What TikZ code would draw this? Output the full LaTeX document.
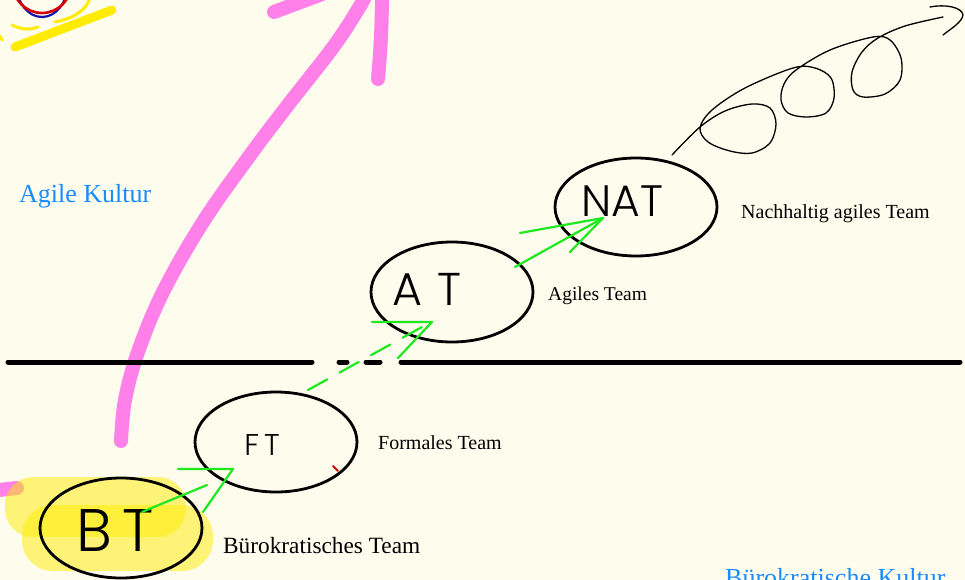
\documentclass[tikz,border=0pt]{standalone}
\usepackage{fontspec}
\setmainfont{Liberation Serif}
\newfontfamily\hand{Poppins Light}
\usetikzlibrary{shapes.geometric}
\definecolor{bg}{RGB}{254,252,237}
\definecolor{kblue}{RGB}{25,140,255}
\definecolor{hpink}{RGB}{255,128,232}
\definecolor{hyel}{RGB}{255,236,0}
\definecolor{hgreen}{RGB}{30,232,30}
\definecolor{hred}{RGB}{215,0,0}
\definecolor{hblue}{RGB}{20,20,170}
\begin{document}
\begin{tikzpicture}[x=1pt,y=-1pt,
  teamellipse/.style={ellipse, draw=black, line width=2.8pt, minimum width=162pt, minimum height=100pt, inner sep=0pt},
  handtext/.style={text=black, inner sep=0pt},
  lbl/.style={anchor=base west, text=black, inner sep=0pt},
  kultur/.style={anchor=base west, text=kblue, inner sep=0pt, font=\fontsize{26}{30}\selectfont},
  greenline/.style={draw=hgreen, line width=2.2pt, line cap=round, line join=round},
  pinkstroke/.style={draw=hpink, line width=14pt, line cap=round, line join=round},
  yelstroke/.style={draw=hyel, line cap=round, line join=round},
  highlight/.style={fill=hyel, fill opacity=0.5, draw=none, rounded corners=28pt},
  baseline/.style={draw=black, line width=5pt, line cap=round},
  coil/.style={draw=black, line width=1.3pt, line cap=round, line join=round}
]
\fill[bg] (0,0) rectangle (965,580);
\useasboundingbox (0,0) rectangle (965,580);
\clip (0,0) rectangle (965,580);

% top-left scribbles
\draw[draw=hblue, line width=2.2pt] (42,-14) ellipse [x radius=25, y radius=31];
\draw[draw=hred, line width=2.6pt] (42,-16) ellipse [x radius=29, y radius=29];
\draw[yelstroke, line width=9pt] (15,47) -- (112,10);
\draw[yelstroke, line width=3pt] (12,25) .. controls (22,30) and (30,30) .. (38,27);
\draw[yelstroke, line width=3pt] (90,-2) .. controls (86,10) and (75,18) .. (55,22);
\draw[yelstroke, line width=3pt] (0,36) -- (2,40);

% pink arrow
\draw[pinkstroke] plot[smooth, tension=0.6] coordinates {(121,441) (125,400) (138,352) (163,292) (203,222) (248,158) (288,105) (334,46) (360,6) (368,-10)};
\draw[pinkstroke] (378,79) .. controls (381,45) and (382,20) .. (382,-12);
\draw[pinkstroke] (274,12) -- (322,-6);
\draw[pinkstroke] (-10,491) -- (17,488);

% yellow highlights
\fill[highlight] (5,477) rectangle (186,537);
\fill[highlight, rounded corners=31pt] (22,505) rectangle (213,571);

% dividing line
\draw[baseline] (8,362) -- (312,362);
\draw[baseline] (339,362) -- (347,362);
\draw[baseline] (366,362) -- (380,362);
\draw[baseline] (401,362) -- (960,362);

% team ellipses
\node[teamellipse] (bt) at (121,528) {};
\node[teamellipse] (ft) at (276,442) {};
\node[teamellipse] (at) at (452,292) {};
\node[teamellipse, minimum height=98pt] (nat) at (636,207) {};

% handwritten abbreviations
\node[handtext, font=\hand\fontsize{60}{60}\selectfont] (btt) at (115,531) {B\,T};
\node[handtext, font=\hand\fontsize{30}{30}\selectfont] (ftt) at (262,445) {F\,T};
\node[handtext, font=\hand\fontsize{46}{46}\selectfont] (att) at (427,289) {A\,\,T};
\node[handtext, font=\hand\fontsize{44}{44}\selectfont] (natt) at (622,201) {NAT};

% red tick
\draw[draw=hred, line width=1.8pt, line cap=round] (333,466) -- (338,471);

% labels
\node[lbl, font=\fontsize{23.3}{27}\selectfont] (lbt) at (223,553) {Bürokratisches Team};
\node[lbl, font=\fontsize{20}{24}\selectfont] (lft) at (378,449) {Formales Team};
\node[lbl, font=\fontsize{19.5}{24}\selectfont] (lat) at (548,300) {Agiles Team};
\node[lbl, font=\fontsize{20}{24}\selectfont] (lnat) at (741,218) {Nachhaltig agiles Team};
\node[kultur] (kag) at (19,202) {Agile Kultur};
\node[kultur] (kbu) at (725,586) {Bürokratische Kultur};

% green arrow BT -> FT
\coordinate (a1s) at (142,512);
\coordinate (a1e) at (207,485);
\coordinate (a1l) at (178,469);
\coordinate (a1t) at (233,469);
\coordinate (a1r) at (203,512);
\draw[greenline] (a1s) -- (a1e);
\draw[greenline] (a1l) -- (a1t) -- (a1r);

% green dashed arrow FT -> AT
\coordinate (a2s) at (308,390);
\coordinate (a2e) at (422,327);
\coordinate (a2l) at (372,322);
\coordinate (a2t) at (432,322);
\coordinate (a2r) at (398,358);
\draw[greenline, dash pattern=on 22pt off 14pt] (a2s) -- (a2e);
\draw[greenline] (a2l) -- (a2t) -- (a2r);

% green arrow AT -> NAT
\coordinate (a3s) at (515,267);
\coordinate (a3t) at (603,218);
\coordinate (a3l) at (520,233);
\coordinate (a3r) at (570,252);
\draw[greenline] (a3s) -- (a3t);
\draw[greenline] (a3l) -- (a3t) -- (a3r);

% coil arrow
\draw[coil] plot[smooth, tension=0.55] coordinates {
  (672,155) (700,127) (725,111) (752,104) (770,108) (776,124) (770,143) (752,153) (730,151) (708,142) (700,128) (712,110) (745,88) (793,68)
  (815,68) (831,78) (834,98) (826,113) (806,117) (788,113) (781,100) (784,84) (796,70) (830,50) (873,37)
  (890,40) (901,58) (900,80) (885,94) (863,97) (853,90) (852,72) (862,52) (878,38) (905,26) (943,17)};
\draw[coil] (930,7) .. controls (945,4) and (962,7) .. (963,15) .. controls (962,22) and (952,28) .. (943,35);
\end{tikzpicture}
\end{document}
